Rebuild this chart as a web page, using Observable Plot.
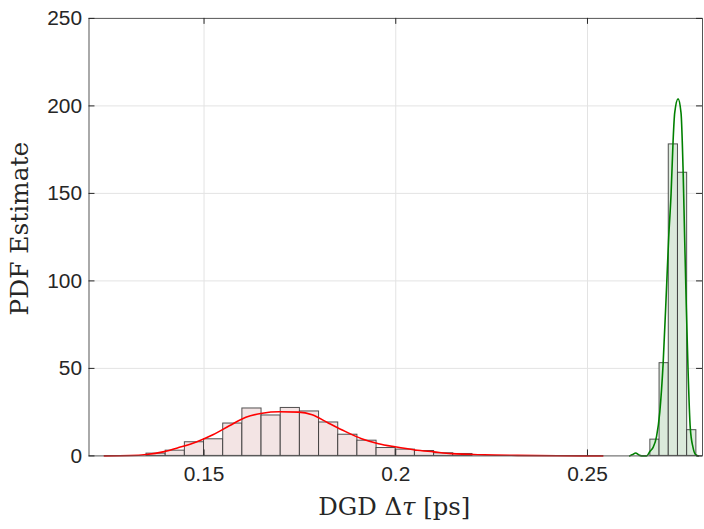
<!DOCTYPE html>
<html><head><meta charset="utf-8">
<script src="https://cdn.jsdelivr.net/npm/d3@7"></script>
<script src="https://cdn.jsdelivr.net/npm/@observablehq/plot@0.6"></script>
<style>
html,body{margin:0;padding:0;background:#fff;overflow:hidden;width:704px;height:529px;}
#chart svg{display:block;}
</style></head><body><div id="chart"></div>
<script>
// ---- data ----
const xTicks = [0.15, 0.2, 0.25];
const yTicks = [0, 50, 100, 150, 200, 250];

const redBinEdges = [0.135, 0.14, 0.145, 0.15, 0.155, 0.16, 0.165, 0.17, 0.175, 0.18, 0.185, 0.19, 0.195, 0.2, 0.205, 0.21, 0.215, 0.22];
const redBinHeights = [1.3, 3.0, 7.8, 9.5, 18.5, 27.1, 23.1, 27.4, 25.4, 19.1, 12.1, 8.7, 4.5, 3.6, 2.8, 1.5, 1.1];

const greenBinEdges = [0.2664, 0.2688, 0.2712, 0.2736, 0.2760, 0.2784];
const greenBinHeights = [9.3, 53, 178, 161.8, 14.7];

const redCurveX = [0.1240, 0.1307, 0.1350, 0.1393, 0.1436, 0.1480, 0.1523, 0.1566, 0.1609, 0.1652, 0.1696, 0.1747, 0.1782, 0.1825, 0.1868, 0.1911, 0.1955, 0.1998, 0.2050, 0.2099, 0.2145, 0.2231, 0.2317, 0.2421, 0.2540];
const redCurveY = [0, 0.2, 0.8, 2.3, 4.9, 8.0, 12.1, 17.2, 22.1, 24.4, 25.2, 25.0, 23.5, 18.7, 14.0, 9.8, 7.0, 5.2, 3.4, 2.3, 1.3, 0.6, 0.3, 0.1, 0];

const greenCurveX = [0.26101, 0.26179, 0.26256, 0.26334, 0.26412, 0.26541, 0.26627, 0.26715, 0.26801, 0.26886, 0.26974, 0.27060, 0.27119, 0.27181, 0.27233, 0.27275, 0.27363, 0.27440, 0.27492, 0.27534, 0.27578, 0.27622, 0.27681, 0.27751, 0.27811, 0.27889];
const greenCurveY = [0, 0.8, 1.7, 0.6, 0, 0, 2.5, 5, 11, 25, 53, 95, 125, 150, 180, 196, 204, 196, 165, 125, 85, 50, 16, 5, 1, 0];

// ---- tables for the library ----
const redBins = redBinHeights.map((h, i) => ({x1: redBinEdges[i], x2: redBinEdges[i + 1], y: h}));
const greenBins = greenBinHeights.map((h, i) => ({x1: greenBinEdges[i], x2: greenBinEdges[i + 1], y: h}));
const redCurve = redCurveX.map((x, i) => ({x, y: redCurveY[i]}));
const greenCurve = greenCurveX.map((x, i) => ({x, y: greenCurveY[i]}));

const W = 708, H = 529, mL = 89, mR = 2, mT = 18, mB = 71;
const fw = W - mL - mR, fh = H - mT - mB, tk = 6;
const axisColor = "#262626";
const sans = "'Liberation Sans', Arial, Helvetica, sans-serif";

const svg = Plot.plot({
  width: W, height: H,
  marginLeft: mL, marginRight: mR, marginTop: mT, marginBottom: mB,
  style: {background: "#fff", overflow: "visible"},
  x: {domain: [0.12, 0.28]},
  y: {domain: [0, 250]},
  marks: [
    Plot.gridX(xTicks, {stroke: "#e3e3e3", strokeOpacity: 1}),
    Plot.gridY(yTicks.slice(1, -1), {stroke: "#e3e3e3", strokeOpacity: 1}),
    Plot.rectY(redBins, {x1: "x1", x2: "x2", y: "y", fill: "#f3e4e4", stroke: "#333", strokeOpacity: 0.85, strokeWidth: 1}),
    Plot.rectY(greenBins, {x1: "x1", x2: "x2", y: "y", fill: "#dbeadb", stroke: "#333", strokeOpacity: 0.85, strokeWidth: 1}),
    Plot.line(redCurve, {x: "x", y: "y", stroke: "#ff0000", strokeWidth: 1.6, curve: "monotone-x"}),
    Plot.line(greenCurve, {x: "x", y: "y", stroke: "#008000", strokeWidth: 1.6, curve: "monotone-x"}),
    Plot.frame({stroke: "#555", strokeWidth: 1}),
    // inward tick marks on all four sides
    Plot.tickX(xTicks, {x: d => d, insetTop: fh - tk, stroke: axisColor}),
    Plot.tickX(xTicks, {x: d => d, insetBottom: fh - tk, stroke: axisColor}),
    Plot.tickY(yTicks, {y: d => d, insetRight: fw - tk, stroke: axisColor}),
    Plot.tickY(yTicks, {y: d => d, insetLeft: fw - tk, stroke: axisColor}),
    Plot.axisX(xTicks, {tickSize: 0, tickPadding: 10, fontSize: 21, fontFamily: sans, fill: axisColor, label: null, tickFormat: d => String(d)}),
    Plot.axisY(yTicks, {tickSize: 0, tickPadding: 7, fontSize: 21, fontFamily: sans, fill: axisColor, label: null, tickFormat: d => String(d)})
  ]
});

const s = d3.select(svg);
const xt = s.append("text")
  .attr("x", mL + fw / 2 - 1).attr("y", 511)
  .attr("text-anchor", "middle").attr("dominant-baseline", "middle")
  .attr("font-family", "'DejaVu Serif', serif").attr("font-size", 24.5).attr("fill", axisColor);
xt.append("tspan").text("DGD Δ");
xt.append("tspan").attr("font-style", "italic").text("τ");
xt.append("tspan").text(" [ps]");

s.append("text")
  .attr("transform", `translate(22,${mT + fh / 2 - 8}) rotate(-90)`)
  .attr("text-anchor", "middle").attr("dominant-baseline", "middle")
  .attr("font-family", "'DejaVu Serif', serif").attr("font-size", 25).attr("fill", axisColor)
  .text("PDF Estimate");

document.getElementById("chart").appendChild(svg);
</script>
</body></html>
